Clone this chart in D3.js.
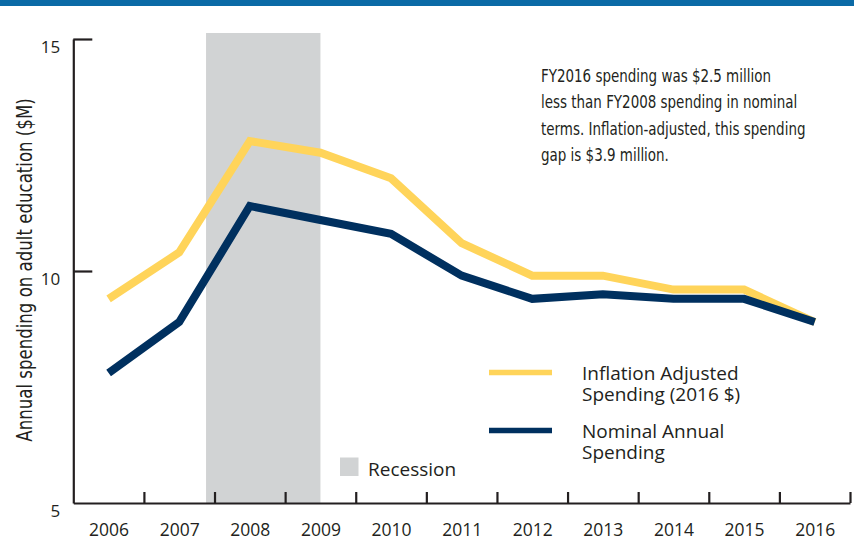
<!DOCTYPE html>
<html>
<head>
<meta charset="utf-8">
<script src="https://cdn.jsdelivr.net/npm/d3@7"></script>
<style>
  html, body { margin: 0; padding: 0; background: #fff; }
  svg { display: block; }
  .cond { font-family: "Liberation Sans Narrow", "DejaVu Sans Condensed", "Arial Narrow", sans-serif; }
  .reg { font-family: "Open Sans", "Noto Sans", sans-serif; }
</style>
</head>
<body>
<svg id="chart" width="854" height="540"></svg>
<script>
// ---- data ----
const years = [2006, 2007, 2008, 2009, 2010, 2011, 2012, 2013, 2014, 2015, 2016];
const inflationAdjusted = [9.4, 10.4, 12.8, 12.55, 12.0, 10.6, 9.9, 9.9, 9.6, 9.6, 8.9];
const nominal = [7.8, 8.9, 11.4, 11.1, 10.8, 9.9, 9.4, 9.5, 9.4, 9.4, 8.9];
const yTicks = [5, 10, 15];
const recession = [2007.38, 2009.0];
const seriesNames = ["Inflation Adjusted|Spending (2016 $)", "Nominal Annual|Spending"];
const recessionLabel = "Recession";
const yTitle = "Annual spending on adult education ($M)";
const noteLines = [
  "FY2016 spending was $2.5 million",
  "less than FY2008 spending in nominal",
  "terms. Inflation-adjusted, this spending",
  "gap is $3.9 million."
];

// ---- layout ----
const svg = d3.select("#chart");
const mLeft = 73.3, mRight = 850, mTop = 39, mBottom = 503;
const colors = { infl: "#ffd45a", nom: "#00305f", rec: "#d1d3d4", axis: "#231f20", bar: "#0b6aa6", text: "#231f20" };

const x = d3.scaleLinear().domain([years[0] - 0.5, years[years.length - 1] + 0.5]).range([mLeft, mRight]);
const y = d3.scaleLinear().domain([5, 15]).range([mBottom, mTop]);

// top bar
svg.append("rect").attr("x", 0).attr("y", 0).attr("width", 854).attr("height", 6).attr("fill", colors.bar);

// recession shading
svg.append("rect")
  .attr("x", x(recession[0])).attr("y", 33)
  .attr("width", x(recession[1]) - x(recession[0]))
  .attr("height", mBottom - 33)
  .attr("fill", colors.rec);

// y axis
const yAxis = svg.append("g").attr("transform", `translate(${mLeft},0)`)
  .call(d3.axisLeft(y).tickValues(yTicks).tickSizeInner(-19).tickSizeOuter(0).tickPadding(13));
yAxis.select(".domain").attr("stroke", colors.axis).attr("stroke-width", 2.2);
yAxis.selectAll(".tick line").attr("stroke", colors.axis).attr("stroke-width", 2.2);
yAxis.selectAll(".tick text")
  .attr("class", "reg").attr("font-size", 17).attr("fill", colors.text).attr("dy", "0.8em");
yAxis.selectAll(".tick").filter(d => d === 5).select("line").remove();

// x axis (boundary ticks)
const boundaries = years.map(d => d + 0.5);
const xAxis = svg.append("g").attr("transform", `translate(0,${mBottom})`)
  .call(d3.axisBottom(x).tickValues(boundaries).tickSizeInner(-11).tickSizeOuter(0).tickFormat(""));
xAxis.select(".domain").attr("stroke", colors.axis).attr("stroke-width", 2.2);
xAxis.selectAll(".tick line").attr("stroke", colors.axis).attr("stroke-width", 2.2);

// x labels
const xLab = svg.append("g").attr("transform", `translate(0,${mBottom})`)
  .call(d3.axisBottom(x).tickValues(years).tickSize(0).tickPadding(21).tickFormat(d3.format("d")));
xLab.select(".domain").remove();
xLab.selectAll(".tick text").attr("class", "reg").attr("font-size", 17.5).attr("fill", colors.text).attr("dy", "0.71em");

// y title (condensed horizontally)
svg.append("text")
  .attr("class", "cond")
  .attr("transform", `translate(32,270) rotate(-90) scale(0.9,1)`)
  .attr("text-anchor", "middle")
  .attr("font-size", 20.5)
  .attr("fill", colors.text)
  .text(yTitle);

// lines
const line = d3.line().x((d, i) => x(years[i])).y(d => y(d));
svg.append("path").datum(inflationAdjusted).attr("d", line)
  .attr("fill", "none").attr("stroke", colors.infl).attr("stroke-width", 8).attr("stroke-linejoin", "miter");
svg.append("path").datum(nominal).attr("d", line)
  .attr("fill", "none").attr("stroke", colors.nom).attr("stroke-width", 8).attr("stroke-linejoin", "miter");

// annotation (condensed horizontally)
const note = svg.append("text").attr("class", "cond").attr("font-size", 17.5).attr("fill", colors.text)
  .attr("transform", "translate(541,0) scale(0.855,1)");
noteLines.forEach((t, i) => {
  note.append("tspan").attr("x", 0).attr("y", 82 + i * 26.3).text(t);
});

// legend
const legendItems = [
  { color: colors.infl, y: 372.5, label: seriesNames[0].split("|"), base: 379.5 },
  { color: colors.nom, y: 430.5, label: seriesNames[1].split("|"), base: 437.5 }
];
legendItems.forEach(it => {
  svg.append("line").attr("x1", 489).attr("x2", 552).attr("y1", it.y).attr("y2", it.y)
    .attr("stroke", it.color).attr("stroke-width", 5.5);
  const t = svg.append("text").attr("class", "reg").attr("font-size", 19).attr("fill", colors.text);
  it.label.forEach((s, i) => t.append("tspan").attr("x", 582).attr("y", it.base + i * 21).text(s));
});
svg.append("rect").attr("x", 340).attr("y", 457.5).attr("width", 18.5).attr("height", 18.5).attr("fill", colors.rec);
svg.append("text").attr("class", "reg").attr("x", 368).attr("y", 476).attr("font-size", 19)
  .attr("fill", colors.text).text(recessionLabel);
</script>
</body>
</html>
